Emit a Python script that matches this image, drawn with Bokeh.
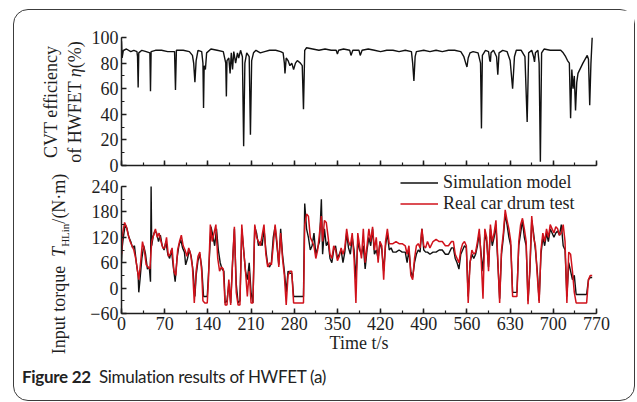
from bokeh.plotting import figure
from bokeh.models import Range1d, SingleIntervalTicker, Legend, LegendItem, Div, Spacer
from bokeh.layouts import column, row
from bokeh.embed import file_html
from bokeh.resources import INLINE

# ---------------- data ----------------
time_eff = [0, 1, 3, 8, 15, 20, 25, 26, 27, 28,
            33, 40, 46, 47, 48, 55, 65, 75, 86, 87.5,
            89, 100, 110, 115, 117, 119, 121, 124, 130, 132,
            133, 134, 136, 138, 145, 155, 165, 169, 170, 171,
            174, 176, 178, 180, 182, 185, 188, 190, 193, 196,
            198, 200, 203, 207, 209, 211, 214, 218, 225, 232,
            240, 250, 258, 262, 264, 265, 267, 270, 273, 276,
            279, 282, 285, 290, 293, 295, 297, 300, 310, 320,
            330, 340, 348, 350, 352, 360, 370, 372, 375, 385,
            387, 390, 400, 410, 420, 430, 440, 450, 460, 470,
            472, 474, 476, 478, 490, 500, 510, 520, 530, 540,
            550, 555, 558, 560, 562, 565, 570, 578, 582, 583.5,
            585, 590, 595, 597, 598, 599, 603, 608, 610, 612,
            618, 625, 630, 634, 637, 640, 648, 654, 657.6, 660,
            665, 668, 669.5, 671, 675, 677, 679, 681, 685, 695,
            705, 712, 716, 720, 723, 726, 728, 730, 732, 734,
            736, 738, 740, 748, 755, 757, 759, 761, 763]
efficiency = [97, 84, 90, 91, 89, 90, 89, 85, 61, 88,
              90, 89, 88, 58, 89, 90, 90, 89, 89, 59,
              90, 90, 89, 86, 80, 65, 82, 90, 89, 80,
              45, 78, 75, 88, 91, 90, 89, 80, 54, 82,
              84, 72, 88, 75, 89, 80, 88, 84, 90, 85,
              15, 80, 88, 85, 24, 82, 88, 90, 88, 89,
              90, 90, 89, 88, 80, 72, 84, 82, 78, 80,
              75, 80, 82, 80, 78, 44, 90, 92, 91, 90,
              91, 90, 90, 87, 90, 91, 90, 86, 90, 90,
              86, 90, 91, 90, 89, 90, 90, 89, 90, 89,
              80, 66, 85, 89, 90, 89, 90, 89, 90, 90,
              89, 85, 80, 77, 84, 88, 89, 88, 80, 29,
              86, 90, 89, 82, 81, 88, 90, 85, 71, 88,
              90, 89, 82, 60, 85, 90, 90, 85, 34, 88,
              90, 85, 81, 88, 90, 80, 3, 88, 91, 90,
              90, 90, 88, 85, 82, 80, 37, 75, 60, 70,
              43, 65, 72, 80, 86, 83, 47, 80, 100]

sim_points = [(0, 60), (1, 95), (3, 120), (6, 150), (9, 140), (12, 120), (15, 110), (18, 95), (21, 100), (24, 60),
              (27, 30), (28, -10), (30, 20), (33, 70), (36, 100), (39, 80), (42, 45), (45, 50), (47, 15), (48, 240),
              (49, 100), (51, 120), (54, 135), (57, 130), (60, 110), (63, 125), (66, 100), (69, 90), (72, 110), (75, 80),
              (78, 70), (81, 90), (84, 50), (87, 15), (90, 70), (93, 100), (96, 115), (99, 95), (102, 85), (104, 55),
              (107, 70), (110, 90), (113, 75), (116, 40), (119, -20), (121, 30), (124, 65), (127, 80), (130, 50), (133, -20),
              (136, -20), (139, -20), (142, 60), (145, 145), (148, 125), (151, 100), (154, 140), (157, 90), (160, 60), (163, 45),
              (166, 40), (168, -35), (171, -30), (174, 10), (177, -35), (180, 60), (183, 140), (186, 10), (189, -35), (192, -30),
              (195, 140), (198, 90), (201, 40), (204, 20), (207, 60), (210, -10), (213, -35), (216, 145), (219, 130), (222, 100),
              (225, 110), (228, 100), (231, 140), (234, 90), (237, 55), (240, 50), (243, 60), (246, 120), (249, 145), (252, 100),
              (255, 55), (258, 140), (261, 80), (264, 40), (267, -10), (270, 40), (273, 35), (276, 35), (279, -20), (285, -20),
              (290, -20), (295, -20), (297, 200), (300, 140), (303, 120), (306, 90), (309, 100), (312, 130), (315, 80), (318, 95),
              (321, 110), (324, 210), (326, 80), (329, 140), (332, 100), (335, 110), (338, 70), (341, 60), (344, 90), (347, 100),
              (350, 70), (353, 80), (356, 90), (359, 60), (362, 85), (365, 130), (368, 95), (371, 80), (374, 120), (377, 90),
              (380, 20), (383, 110), (386, 90), (389, 80), (392, 100), (395, 45), (398, 90), (401, 120), (404, 100), (407, 140),
              (410, 80), (413, 90), (416, 70), (419, 110), (422, 90), (425, 40), (428, 100), (431, 130), (434, 90), (437, 95),
              (440, 85), (445, 85), (450, 90), (455, 85), (460, 85), (463, 60), (466, 90), (469, 40), (472, 25), (475, 60),
              (478, 80), (481, 90), (484, 85), (487, 140), (490, 90), (493, 85), (496, 85), (500, 80), (505, 85), (510, 85),
              (515, 90), (520, 90), (525, 80), (530, 80), (535, 95), (538, 95), (541, 70), (544, 60), (547, 45), (550, 80),
              (553, 90), (556, 100), (559, 95), (562, -20), (565, 60), (568, 80), (571, 70), (574, 80), (577, 100), (580, 130),
              (583, 80), (586, 40), (589, 130), (592, 110), (595, 50), (598, 140), (601, 100), (604, 120), (607, 150), (610, 60),
              (613, -25), (616, 80), (619, 120), (622, 175), (625, 150), (628, 120), (631, 100), (634, -10), (637, -10), (641, -10),
              (644, 100), (647, 130), (650, 160), (653, 120), (656, 100), (659, -30), (662, 40), (665, 160), (668, 130), (671, 90),
              (674, 40), (677, -30), (680, 80), (683, 120), (686, 100), (689, 130), (692, 110), (695, 140), (698, 130), (701, 120),
              (704, 130), (707, 135), (710, 125), (713, 150), (716, 100), (719, 90), (722, -20), (725, 60), (728, 40), (731, 20),
              (734, 30), (737, -15), (742, -15), (748, -15), (754, -15), (757, 20), (760, 25), (763, 25)]

real_points = [(0, 80), (2, 130), (5, 155), (8, 145), (11, 125), (14, 110), (17, 100), (20, 90), (23, 70), (26, 40),
               (28, 20), (31, 60), (34, 110), (37, 90), (40, 55), (43, 50), (46, 45), (49, 110), (52, 125), (55, 140),
               (58, 120), (61, 130), (64, 110), (67, 95), (70, 95), (73, 120), (76, 75), (79, 80), (82, 95), (85, 40),
               (88, 30), (91, 90), (94, 110), (97, 125), (100, 100), (103, 90), (106, 75), (109, 95), (112, 80), (115, 50),
               (118, -35), (121, 40), (124, 75), (127, 85), (130, 40), (132, -30), (135, -35), (139, -35), (141, 20), (144, 150),
               (147, 110), (150, 130), (153, 150), (156, 70), (159, 40), (162, 50), (165, 45), (168, -40), (171, -40), (174, 20),
               (177, -40), (180, 60), (183, 145), (186, -10), (189, -40), (192, -40), (195, 150), (198, 90), (201, 40), (204, -20),
               (207, 40), (210, -35), (213, -35), (216, 150), (219, 120), (222, 110), (225, 100), (228, 125), (231, 150), (234, 80),
               (237, 50), (240, 60), (243, 55), (246, 100), (249, 150), (252, 110), (255, 50), (258, 130), (261, 70), (264, 30),
               (267, -40), (270, 30), (273, 40), (276, 40), (279, -35), (285, -35), (290, -35), (295, -35), (297, 150), (300, 175),
               (303, 170), (306, 120), (309, 110), (312, 100), (315, 70), (318, 90), (321, 130), (324, 170), (326, 110), (329, 160),
               (332, 155), (335, 120), (338, 80), (341, 70), (344, 100), (347, 90), (350, 65), (353, 75), (356, 95), (359, 80),
               (362, 95), (365, 140), (368, 110), (371, 100), (374, 130), (377, 70), (380, -35), (383, 130), (386, 100), (389, 70),
               (392, 140), (395, 60), (398, 100), (401, 140), (404, 110), (407, 145), (410, 90), (413, 120), (416, 60), (419, 110),
               (422, 100), (425, 20), (428, 110), (431, 140), (434, 105), (437, 105), (440, 105), (445, 110), (450, 105), (455, 105),
               (460, 100), (463, 80), (466, 100), (469, 30), (472, 20), (475, 70), (478, 100), (481, 105), (484, 95), (487, 140),
               (490, 100), (493, 95), (496, 110), (500, 95), (505, 110), (510, 115), (515, 110), (520, 110), (525, 100), (530, 100),
               (535, 110), (538, 110), (541, 80), (544, 70), (547, 60), (550, 90), (553, 105), (556, 110), (559, 100), (562, -35),
               (565, 60), (568, 90), (571, 80), (574, 85), (577, 110), (580, 140), (583, 70), (586, -25), (589, 140), (592, 120),
               (595, 40), (598, 150), (601, 110), (604, 130), (607, 160), (610, 70), (613, -35), (616, 90), (619, 130), (622, 185),
               (625, 160), (628, 140), (631, 110), (634, -20), (637, -20), (641, -20), (644, 110), (647, 150), (650, 165), (653, 140),
               (656, 110), (659, -38), (662, 50), (665, 170), (668, 120), (671, 100), (674, 30), (677, -35), (680, 90), (683, 130),
               (686, 110), (689, 140), (692, 120), (695, 150), (698, 140), (701, 130), (704, 145), (707, 140), (710, 125), (713, 130),
               (716, 150), (719, 110), (722, -35), (725, 85), (728, 80), (731, 40), (734, -10), (737, -35), (742, -35), (748, -35),
               (754, -35), (757, 20), (760, 30), (763, 30)]

time_sim = [p[0] for p in sim_points]
torque_sim = [p[1] for p in sim_points]
time_real = [p[0] for p in real_points]
torque_real = [p[1] for p in real_points]

x_limits = (0, 770)
x_ticks = list(range(0, 771, 70))
eff_limits = (0, 100)
torque_limits = (-60, 240)
series_names = ["Simulation model", "Real car drum test"]
eff_label_lines = ["CVT efficiency", "of HWFET <i>\u03b7</i>(%)"]
torque_label = "Input torque&nbsp; <i>T</i><sub style='font-size:11px'>HLin</sub>/(N\u00b7m)"
x_label = "Time t/s"
caption_bold = "Figure 22"
caption_text = "Simulation results of HWFET (a)"

# ---------------- styling ----------------
SERIF = "Liberation Serif"
FS = "18px"
INK = "#1e1e1e"
BLACK = "#111111"
RED = "#d0121b"


def style(p):
    p.grid.visible = False
    p.outline_line_color = None
    p.background_fill_color = "white"
    p.border_fill_color = "white"
    for ax in (p.xaxis[0], p.yaxis[0]):
        ax.axis_line_color = INK
        ax.axis_line_width = 1.5
        ax.major_tick_in = 5
        ax.major_tick_out = 0
        ax.minor_tick_in = 3
        ax.minor_tick_out = 0
        ax.major_tick_line_color = INK
        ax.minor_tick_line_color = INK
        ax.major_tick_line_width = 1.5
        ax.minor_tick_line_width = 1.2
        ax.major_label_text_font = SERIF
        ax.major_label_text_font_size = FS
        ax.major_label_text_color = INK
        ax.major_label_standoff = 3
        ax.axis_label_text_font = SERIF
        ax.axis_label_text_font_size = FS
        ax.axis_label_text_font_style = "normal"
        ax.axis_label_text_color = INK


def side_label(html, cx, cy, w, h):
    return Div(text=(f'<div style="position:relative;width:{w}px;height:{h}px;">'
                     f'<div style="position:absolute;left:{cx}px;top:{cy}px;'
                     f'transform:translate(-50%,-50%) rotate(-90deg);white-space:nowrap;'
                     f'text-align:center;font-family:\'{SERIF}\';font-size:{FS};line-height:24px;'
                     f'color:{INK};">{html}</div></div>'),
               width=w, height=h, margin=0)


# top panel: efficiency  (frame: x 121..596, y 37..165)
p1 = figure(frame_width=475, frame_height=128, x_range=Range1d(*x_limits), y_range=Range1d(*eff_limits),
            output_backend="svg", toolbar_location=None,
            min_border_left=36, min_border_right=38, min_border_top=27, min_border_bottom=7)
style(p1)
p1.xaxis.ticker = SingleIntervalTicker(interval=70, num_minor_ticks=2)
p1.yaxis.ticker = SingleIntervalTicker(interval=20, num_minor_ticks=2)
p1.xaxis.major_label_overrides = {float(t): "" for t in x_ticks}
p1.xaxis.major_label_standoff = 0
p1.line(time_eff, efficiency, line_color=BLACK, line_width=1.4)
lab1 = side_label("<br>".join(eff_label_lines), 49, 92, 71, 162)

# bottom panel: torque (frame: y 172..313; it reaches a little above 240 so the legend fits)
top_pad = 33.1
p2 = figure(frame_width=475, frame_height=141, x_range=Range1d(*x_limits),
            y_range=Range1d(torque_limits[0], torque_limits[1] + top_pad),
            output_backend="svg", toolbar_location=None,
            min_border_left=36, min_border_right=38, min_border_top=0, min_border_bottom=45)
style(p2)
p2.xaxis.ticker = SingleIntervalTicker(interval=70, num_minor_ticks=2)
p2.yaxis.ticker = SingleIntervalTicker(interval=60, num_minor_ticks=2)
p2.yaxis.bounds = torque_limits
p2.xaxis.axis_label = x_label
p2.xaxis.axis_label_standoff = 0
r_sim = p2.line(time_sim, torque_sim, line_color=BLACK, line_width=1.4)
r_real = p2.line(time_real, torque_real, line_color=RED, line_width=1.5)

legend = Legend(items=[LegendItem(label=series_names[0], renderers=[r_sim]),
                       LegendItem(label=series_names[1], renderers=[r_real])],
                location=(279, 99), orientation="vertical",
                padding=0, margin=0, spacing=0,
                glyph_width=38, glyph_height=17, label_height=17, label_standoff=5,
                label_text_font=SERIF, label_text_font_size=FS, label_text_color=INK,
                border_line_color=None, background_fill_alpha=0)
p2.add_layout(legend, "center")
lab2 = side_label(torque_label, 48, 92, 71, 186)

caption = Div(text=('<div style="padding:7px 0 0 8px; font-family:Lato; font-size:17px; '
                    'letter-spacing:-0.3px; color:#222; white-space:nowrap;">'
                    '<b>' + caption_bold + '</b>&nbsp;&nbsp;' + caption_text + '</div>'),
              width=620, height=42, margin=0)

inner = column(row(lab1, p1), row(lab2, p2), caption,
               styles={"outline": "1.5px solid #3c3c3c", "border-radius": "14px",
                       "background": "white"})
layout = column(Spacer(width=620, height=10), row(Spacer(width=14, height=390), inner))

open("out.html", "w").write(file_html(layout, INLINE))
